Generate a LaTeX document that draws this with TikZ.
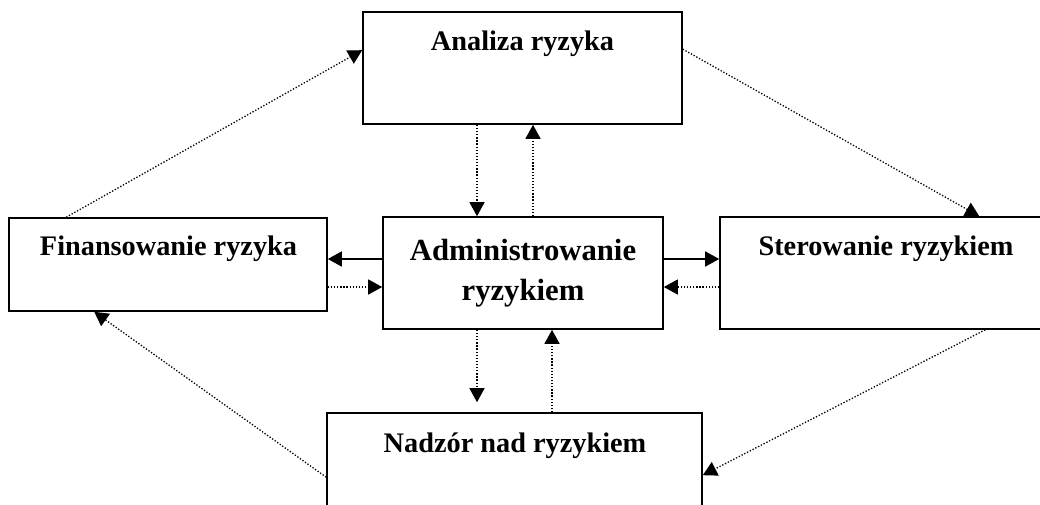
\documentclass[tikz,border=0pt]{standalone}
\usepackage{fontspec}
\setmainfont{Liberation Serif}
\usetikzlibrary{arrows.meta}
\tikzset{
  box/.style={draw, line width=1.6pt, inner sep=0pt, fill=none},
  lbl/.style={anchor=base, inner sep=0pt, font=\bfseries\fontsize{28.3}{34}\selectfont},
  solidarr/.style={line width=1.4pt, -{Triangle[length=14pt,width=15pt]}},
  dotarr/.style={line width=1.3pt, dash pattern=on 1.3pt off 1.8pt, -{Triangle[length=14pt,width=15pt]}},
}
\begin{document}
\begin{tikzpicture}[x=1pt,y=-1pt]
\useasboundingbox (0,0) rectangle (1040,504);
\fill[white] (0,0) rectangle (1040,504);
\clip (0,0) rectangle (1040,504);
% boxes
\node[box, minimum width=319pt, minimum height=112pt] (anal) at (522.5,68) {};
\node[box, minimum width=318pt, minimum height=93pt] (fin) at (168,264.5) {};
\node[box, minimum width=280pt, minimum height=112pt, align=center,
      font=\bfseries\fontsize{30.7}{40}\selectfont] (admin) at (523,273) {Administrowanie\\ryzykiem};
\node[box, minimum width=332pt, minimum height=112pt] (ster) at (886,273) {};
\node[box, minimum width=375pt, minimum height=107pt] (nadz) at (514.5,466.5) {};
% labels
\node[lbl] (tanal) at (522.5,50) {Analiza ryzyka};
\node[lbl] (tfin) at (168.5,255) {Finansowanie ryzyka};
\node[lbl] (tster) at (886,255) {Sterowanie ryzykiem};
\node[lbl] (tnadz) at (515,452) {Nadzór nad ryzykiem};
% vertical connectors
\draw[dotarr] ([xshift=-45.5pt]anal.south) -- ([xshift=-46pt]admin.north);
\draw[dotarr] ([xshift=10pt]admin.north) -- ([xshift=10.5pt]anal.south);
\draw[dotarr, shorten >=10pt] ([xshift=-46pt]admin.south) -- ([xshift=-37.5pt]nadz.north);
\draw[dotarr] ([xshift=37.5pt]nadz.north) -- ([xshift=29pt]admin.south);
% horizontal connectors
\draw[solidarr] ([yshift=14pt]admin.west) -- ([yshift=5.5pt]fin.east);
\draw[dotarr] ([yshift=-22.5pt]fin.east) -- ([yshift=-14pt]admin.west);
\draw[solidarr] ([yshift=14pt]admin.east) -- ([yshift=14pt]ster.west);
\draw[dotarr] ([yshift=-14pt]ster.west) -- ([yshift=-14pt]admin.east);
% diagonal connectors
\draw[dotarr] ([xshift=58pt]fin.north west) -- ([yshift=-39pt]anal.north west);
\draw[dotarr] ([yshift=-38pt]anal.north east) -- ([xshift=260pt]ster.north west);
\draw[dotarr] ([xshift=266pt]ster.south west) -- ([yshift=-63pt]nadz.north east);
\draw[dotarr] ([yshift=-65pt]nadz.north west) -- ([xshift=86pt]fin.south west);
\end{tikzpicture}
\end{document}
